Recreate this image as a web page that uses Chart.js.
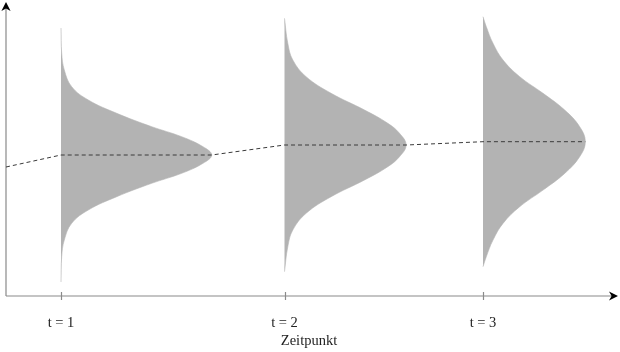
<!DOCTYPE html>
<html lang="de">
<head>
<meta charset="utf-8">
<title>Zeitpunkt</title>
<script src="https://cdn.jsdelivr.net/npm/chart.js@4"></script>
<style>
  html, body { margin: 0; padding: 0; background: #fff; }
  #rahmen { width: 620px; height: 352px; }
</style>
</head>
<body>
<div id="rahmen"><canvas id="grafik"></canvas></div>
<script>
// ============================================================
// DATEN - Verteilungen zu drei Zeitpunkten
// ============================================================

const zeitpunkte = [5.5, 27.85, 47.7];
const zeitLabels = ["t = 1", "t = 2", "t = 3"];
const mittelwerte = [14.1, 15.1, 15.43];
const startwert = 12.9;

// Profil jeder Verteilung: Abstand vom Mittelwert und Dichte (Breite)
const abstand1 = [0, 0.83, 1.83, 2.83, 4.17, 5.5, 6.83, 8.5, 10.17, 12.7];
const dichte1 = [15.07, 14.2, 12.07, 9.07, 5.57, 2.73, 1.07, 0.33, 0.07, 0];

const abstand2 = [0, 1.17, 2.17, 3.5, 5.17, 6.83, 8.5, 10.17, 12.67];
const dichte2 = [12.16, 11.5, 10.33, 8.0, 4.66, 2.16, 0.83, 0.33, 0];

const abstand3 = [0, 1.5, 3.17, 4.84, 6.5, 8.17, 9.84, 11.5, 12.5];
const dichte3 = [10.23, 9.67, 8.17, 6.0, 3.67, 2.0, 1.0, 0.33, 0];

const abstaende = [abstand1, abstand2, abstand3];
const dichten = [dichte1, dichte2, dichte3];

const SCHRIFT = { family: "'Liberation Serif', 'DejaVu Serif', serif", size: 14.5 };
const GRAU_FLAECHE = "#b3b3b3";
const GRAU_ACHSE = "#8a8a8a";

/**
 * Baut die Kontur einer Verteilung: von oben (Ende des Schwanzes)
 * über den Gipfel bis unten, die Grundlinie liegt beim Zeitpunkt.
 */
function kontur(i) {
  const t = zeitpunkte[i];
  const m = mittelwerte[i];
  const d = abstaende[i];
  const w = dichten[i];
  const punkte = [];
  for (let k = d.length - 1; k >= 0; k--) {
    punkte.push({ x: t + w[k], y: m + d[k] });
  }
  for (let k = 1; k < d.length; k++) {
    punkte.push({ x: t + w[k], y: m - d[k] });
  }
  return punkte;
}

function mittelwertLinie() {
  const punkte = [{ x: 0, y: startwert }];
  zeitpunkte.forEach(function (t, i) {
    punkte.push({ x: t, y: mittelwerte[i] });
    punkte.push({ x: t + dichten[i][0], y: mittelwerte[i] });
  });
  return punkte;
}

function pfeil(ctx, x, y, richtung) {
  // richtung: "oben" oder "rechts"
  ctx.save();
  ctx.translate(x, y);
  if (richtung === "rechts") ctx.rotate(Math.PI / 2);
  ctx.beginPath();
  ctx.moveTo(0, 0);
  ctx.lineTo(4.6, 9);
  ctx.lineTo(0, 6.4);
  ctx.lineTo(-4.6, 9);
  ctx.closePath();
  ctx.fillStyle = "#000";
  ctx.fill();
  ctx.restore();
}

const achsenPlugin = {
  id: "achsen",
  beforeDatasetsDraw: function (chart) {
    const ctx = chart.ctx;
    const bereich = chart.chartArea;
    const x0 = bereich.left;
    const y0 = bereich.bottom;
    ctx.save();
    ctx.strokeStyle = GRAU_ACHSE;
    ctx.lineWidth = 1.2;
    ctx.beginPath();
    ctx.moveTo(x0, y0);
    ctx.lineTo(x0, bereich.top + 2);
    ctx.moveTo(x0, y0);
    ctx.lineTo(bereich.right + 1, y0);
    zeitpunkte.forEach(function (t) {
      const px = Math.round(chart.scales.x.getPixelForValue(t)) + 0.5;
      ctx.moveTo(px, y0 - 4);
      ctx.lineTo(px, y0 + 4);
    });
    ctx.stroke();
    ctx.restore();
    pfeil(ctx, x0, bereich.top - 3, "oben");
    pfeil(ctx, bereich.right + 6, y0, "rechts");
  }
};

const datensaetze = [{
  data: mittelwertLinie(),
  showLine: true,
  borderColor: "#3a3a3a",
  borderWidth: 1,
  borderDash: [4, 3],
  pointRadius: 0,
  tension: 0,
  fill: false,
  order: 0
}];

zeitpunkte.forEach(function (t, i) {
  datensaetze.push({
    data: kontur(i),
    showLine: true,
    borderColor: GRAU_FLAECHE,
    borderWidth: 0.6,
    backgroundColor: GRAU_FLAECHE,
    pointRadius: 0,
    tension: 0.4,
    fill: "shape",
    order: 1
  });
});

new Chart(document.getElementById("grafik"), {
  type: "scatter",
  data: { datasets: datensaetze },
  plugins: [achsenPlugin],
  options: {
    animation: false,
    responsive: true,
    maintainAspectRatio: false,
    layout: { padding: { left: 6, right: 8, top: 5, bottom: 2.3 } },
    plugins: {
      legend: { display: false },
      tooltip: { enabled: false }
    },
    scales: {
      x: {
        type: "linear",
        min: 0,
        max: 60.6,
        grid: { display: false, drawTicks: false },
        border: { display: false },
        afterBuildTicks: function (scale) {
          scale.ticks = zeitpunkte.map(function (t) { return { value: t }; });
        },
        ticks: {
          font: SCHRIFT,
          color: "#222",
          padding: 18.8,
          autoSkip: false,
          maxRotation: 0,
          callback: function (wert, index) { return zeitLabels[index]; }
        },
        title: {
          display: true,
          text: "Zeitpunkt",
          font: SCHRIFT,
          color: "#222",
          // Chart.js zählt den Tick-Abstand unter den Labels doppelt
          padding: { top: -18.7, bottom: 0 }
        }
      },
      y: {
        display: false,
        min: 0,
        max: 29.1
      }
    }
  }
});
</script>
</body>
</html>
